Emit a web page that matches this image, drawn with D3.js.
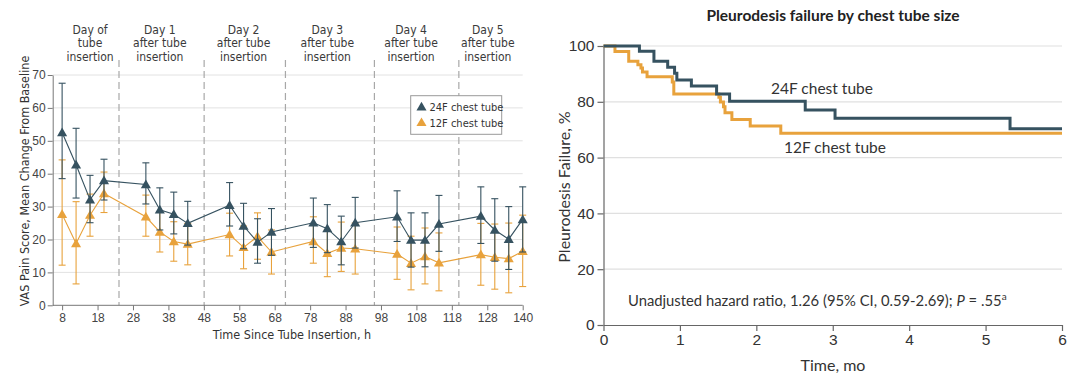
<!DOCTYPE html>
<html><head><meta charset="utf-8">
<script src="https://cdn.jsdelivr.net/npm/d3@7"></script>
<style>
html,body{margin:0;padding:0;background:#fff;}
svg{display:block;}
.cond{font-family:"Liberation Sans Narrow","DejaVu Sans Condensed",Lato,sans-serif;}
.hum{font-family:Lato,"Open Sans",sans-serif;}
</style></head>
<body>
<svg id="c" width="1080" height="382"></svg>
<script>
// ---------- Left panel data ----------
const hours = [8,12,16,20,32,36,40,44,56,60,64,68,80,84,88,92,104,108,112,116,128,132,136,140];
const tube24Mean  = [52.5,42.7,32.1,37.9,36.7,29.0,27.7,24.9,30.4,24.1,19.2,22.3,25.1,23.3,19.4,25.1,26.9,19.8,19.8,24.7,27.1,22.9,20.1,26.1];
const tube24Upper = [67.5,53.8,39.5,44.4,43.3,35.7,34.4,31.6,37.3,31.0,26.3,29.4,32.6,30.6,27.1,32.8,34.8,28.1,28.1,33.4,36.0,32.4,30.0,36.0];
const tube24Lower = [38.5,32.6,25.1,32.0,30.8,22.9,21.7,18.3,24.1,17.2,12.8,15.2,17.6,16.0,12.3,17.4,19.4,11.6,11.7,16.4,18.8,13.4,10.9,16.2];
const tube12Mean  = [27.7,18.8,27.4,34.0,26.9,22.3,19.4,18.6,21.5,17.6,20.9,16.2,19.4,15.8,17.4,17.2,15.6,12.8,14.8,12.9,15.4,14.6,14.2,16.4];
const tube12Upper = [44.2,31.5,33.8,40.5,33.5,28.4,25.4,24.9,28.0,24.1,28.1,22.9,26.9,22.9,25.3,25.0,23.8,21.0,23.5,22.0,24.9,24.7,25.0,27.4];
const tube12Lower = [12.2,6.5,21.0,28.2,21.0,16.2,13.4,12.3,15.0,11.1,14.0,9.5,12.8,8.7,10.3,9.5,7.9,4.7,6.5,4.4,6.1,4.9,3.8,5.7];
const xTickLabels = ["8","18","28","38","48","58","68","78","88","98","108","118","128","140"];
const yTicksLeft = [0,10,20,30,40,50,60,70];
const dayBoundaries = [24.3,48.7,72,97.5,121.7];
const dayLabelHours = [16,36,60,84,108,130];
const dayLabels = [["Day of","tube","insertion"],["Day 1","after tube","insertion"],["Day 2","after tube","insertion"],
                   ["Day 3","after tube","insertion"],["Day 4","after tube","insertion"],["Day 5","after tube","insertion"]];
const seriesNames = ["24F chest tube","12F chest tube"];

// ---------- Right panel data ----------
const km24Time  = [0,0.47,0.66,0.84,0.93,0.96,1.15,1.48,1.65,2.64,3.03,5.32,6];
const km24Value = [100,98.1,94.5,92.4,90.2,87.8,85.7,82.8,80.2,77.1,74.1,70.3,70.3];
const km12Time  = [0,0.15,0.33,0.45,0.49,0.51,0.57,0.90,0.92,1.51,1.53,1.57,1.59,1.68,1.92,2.32,6];
const km12Value = [100,98.0,94.5,93.3,92.1,90.7,89.0,87.1,82.8,81.6,79.9,78.2,76.1,73.7,71.3,68.7,68.7];
const xTicksRight = [0,1,2,3,4,5,6];
const yTicksRight = [0,20,40,60,80,100];

const DARK = "#365260", ORANGE = "#e8a23c";
const svg = d3.select("#c");

// ================= LEFT PANEL =================
const L = svg.append("g").attr("class","cond");
const xL = d3.scaleLinear().domain([5.3,140]).range([52.7,522.7]);
const yL = d3.scaleLinear().domain([0,70]).range([305.3,75]);
const xTick = d3.scalePoint().domain(xTickLabels).range([xL(8), xL(140)]);

// grid
L.append("g").selectAll("line").data(yTicksLeft.filter(d=>d>0)).join("line")
  .attr("x1",xL.range()[0]).attr("x2",xL.range()[1])
  .attr("y1",d=>yL(d)).attr("y2",d=>yL(d))
  .attr("stroke","#e2e2e2").attr("stroke-width",1);

// day dividers
L.append("g").selectAll("line").data(dayBoundaries).join("line")
  .attr("x1",d=>xL(d)).attr("x2",d=>xL(d))
  .attr("y1",60).attr("y2",yL(0))
  .attr("stroke","#a8a8a8").attr("stroke-width",1.2).attr("stroke-dasharray","7,4");

// day headers
const hdr = L.append("g").selectAll("text").data(dayLabels).join("text")
  .attr("x",(d,i)=>xL(dayLabelHours[i])).attr("y",34)
  .attr("text-anchor","middle").attr("font-size",12).attr("fill","#3a3a3a");
hdr.selectAll("tspan").data(d=>d).join("tspan")
  .attr("x",function(){return d3.select(this.parentNode).attr("x");})
  .attr("dy",(d,i)=>i===0?0:13.3).text(d=>d);

// y axis
const yAx = L.append("g").attr("transform",`translate(${xL.range()[0]},0)`)
  .call(d3.axisLeft(yL).tickValues(yTicksLeft).tickSize(5).tickSizeOuter(0).tickPadding(2));
yAx.select(".domain").attr("stroke","#777");
yAx.selectAll(".tick line").attr("stroke","#777");
yAx.selectAll(".tick text").attr("font-size",12).attr("fill","#444").attr("font-family",null);

// x axis
L.append("line").attr("x1",xL.range()[0]).attr("x2",xL.range()[1])
  .attr("y1",yL(0)).attr("y2",yL(0)).attr("stroke","#777");
const xAx = L.append("g").attr("transform",`translate(0,${yL(0)})`)
  .call(d3.axisBottom(xTick).tickSize(5).tickSizeOuter(0).tickPadding(3));
xAx.select(".domain").remove();
xAx.selectAll(".tick line").attr("stroke","#777");
xAx.selectAll(".tick text").attr("font-size",12).attr("fill","#444").attr("font-family",null);

// axis titles
L.append("text").attr("x",292).attr("y",339).attr("text-anchor","middle")
  .attr("font-size",12.5).attr("fill","#333").text("Time Since Tube Insertion, h");
L.append("text").attr("transform","translate(29,181) rotate(-90)").attr("text-anchor","middle")
  .attr("font-size",12.5).attr("fill","#333").text("VAS Pain Score, Mean Change From Baseline");

// series
const tri = d3.symbol().type(d3.symbolTriangle).size(44);
function drawSeries(mean, upper, lower, color){
  const g = L.append("g");
  const pts = hours.map((h,i)=>({h, m:mean[i], u:upper[i], l:lower[i]}));
  g.append("path").datum(pts)
    .attr("d", d3.line().x(d=>xL(d.h)).y(d=>yL(d.m)))
    .attr("fill","none").attr("stroke",color).attr("stroke-width",1.1);
  const eb = g.append("g").attr("stroke",color).attr("stroke-width",1.1);
  eb.selectAll(".v").data(pts).join("line")
    .attr("x1",d=>xL(d.h)).attr("x2",d=>xL(d.h)).attr("y1",d=>yL(d.u)).attr("y2",d=>yL(d.l));
  eb.selectAll(".cu").data(pts).join("line")
    .attr("x1",d=>xL(d.h)-3.5).attr("x2",d=>xL(d.h)+3.5).attr("y1",d=>yL(d.u)).attr("y2",d=>yL(d.u));
  eb.selectAll(".cl").data(pts).join("line")
    .attr("x1",d=>xL(d.h)-3.5).attr("x2",d=>xL(d.h)+3.5).attr("y1",d=>yL(d.l)).attr("y2",d=>yL(d.l));
  return {g, pts};
}
const s12 = drawSeries(tube12Mean, tube12Upper, tube12Lower, ORANGE);
const s24 = drawSeries(tube24Mean, tube24Upper, tube24Lower, DARK);
[[s12,ORANGE],[s24,DARK]].forEach(([s,c])=>{
  s.g.selectAll("path.m").data(s.pts).join("path").attr("class","m")
    .attr("d",tri).attr("transform",d=>`translate(${xL(d.h)},${yL(d.m)+0.8})`).attr("fill",c);
});

// legend
const lg = L.append("g");
lg.append("rect").attr("x",410.7).attr("y",95.7).attr("width",91).attr("height",38.6)
  .attr("fill","#fff").attr("stroke","#999").attr("stroke-width",1);
[DARK,ORANGE].forEach((c,i)=>{
  lg.append("path").attr("d",tri).attr("transform",`translate(421.5,${107.5+i*15.7})`).attr("fill",c);
  lg.append("text").attr("x",429.5).attr("y",111.3+i*15.7).attr("font-size",11).attr("fill","#333").text(seriesNames[i]);
});

// ================= RIGHT PANEL =================
const R = svg.append("g").attr("class","hum");
const xR = d3.scaleLinear().domain([0,6]).range([603.5,1062]);
const yR = d3.scaleLinear().domain([0,100]).range([325,46]);

R.append("text").attr("x",833).attr("y",21).attr("text-anchor","middle")
  .attr("font-size",15.5).attr("font-weight","bold").attr("fill","#222")
  .text("Pleurodesis failure by chest tube size");

R.append("g").selectAll("line").data(yTicksRight.filter(d=>d>0)).join("line")
  .attr("x1",xR(0)).attr("x2",xR(6)).attr("y1",d=>yR(d)).attr("y2",d=>yR(d))
  .attr("stroke","#e0e0e0").attr("stroke-width",1.2);

const yAxR = R.append("g").attr("transform",`translate(${xR(0)},0)`)
  .call(d3.axisLeft(yR).tickValues(yTicksRight).tickFormat(d3.format("d")).tickSize(6).tickSizeOuter(0).tickPadding(3));
const xAxR = R.append("g").attr("transform",`translate(0,${yR(0)})`)
  .call(d3.axisBottom(xR).tickValues(xTicksRight).tickFormat(d3.format("d")).tickSize(6).tickSizeOuter(0).tickPadding(3));
[yAxR,xAxR].forEach(a=>{
  a.select(".domain").attr("stroke","#666").attr("stroke-width",1.2);
  a.selectAll(".tick line").attr("stroke","#666").attr("stroke-width",1.2);
  a.selectAll(".tick text").attr("font-size",15.5).attr("fill","#333").attr("font-family",null);
});

const km = d3.line().curve(d3.curveStepAfter).x(d=>xR(d[0])).y(d=>yR(d[1]));
R.append("path").datum(km12Time.map((t,i)=>[t,km12Value[i]])).attr("d",km)
  .attr("fill","none").attr("stroke",ORANGE).attr("stroke-width",3);
R.append("path").datum(km24Time.map((t,i)=>[t,km24Value[i]])).attr("d",km)
  .attr("fill","none").attr("stroke",DARK).attr("stroke-width",3);

R.append("text").attr("x",771).attr("y",94).attr("font-size",15.5).attr("fill","#333").text(seriesNames[0]);
R.append("text").attr("x",784).attr("y",153).attr("font-size",15.5).attr("fill","#333").text(seriesNames[1]);

const ann = R.append("text").attr("x",628).attr("y",306).attr("font-size",14.8).attr("fill","#333");
ann.append("tspan").text("Unadjusted hazard ratio, 1.26 (95% CI, 0.59-2.69); ");
ann.append("tspan").attr("font-style","italic").text("P");
ann.append("tspan").text(" = .55");
ann.append("tspan").attr("font-size",10).attr("dy",-6).text("a");

R.append("text").attr("x",833).attr("y",371).attr("text-anchor","middle")
  .attr("font-size",16).attr("fill","#333").text("Time, mo");
R.append("text").attr("transform","translate(570,187) rotate(-90)").attr("text-anchor","middle")
  .attr("font-size",16).attr("fill","#333").text("Pleurodesis Failure, %");
</script>
</body></html>
